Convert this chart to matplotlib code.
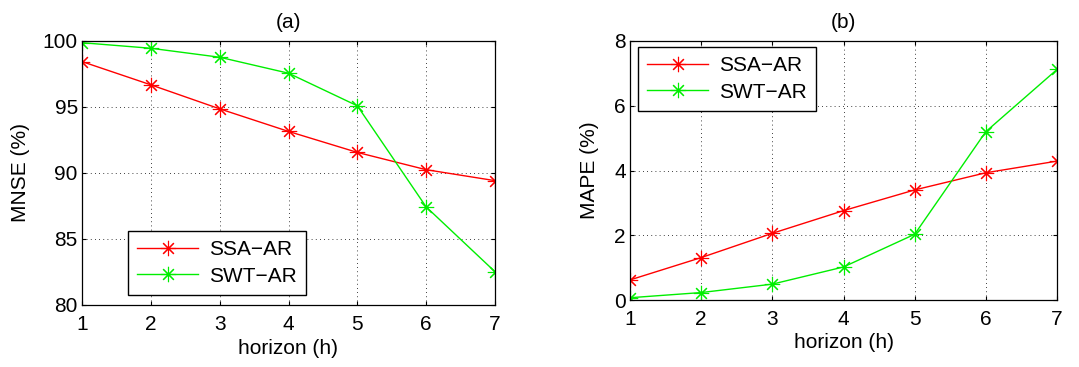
import matplotlib
matplotlib.use('Agg')
import matplotlib.pyplot as plt

plt.rcParams['font.family'] = ['Liberation Sans', 'DejaVu Sans']

horizon = [1, 2, 3, 4, 5, 6, 7]

# (a) MNSE (%)
mnse_ssa = [98.44, 96.68, 94.86, 93.15, 91.56, 90.25, 89.42]
mnse_swt = [99.87, 99.45, 98.77, 97.56, 95.09, 87.43, 82.52]

# (b) MAPE (%)
mape_ssa = [0.62, 1.31, 2.06, 2.76, 3.40, 3.93, 4.29]
mape_swt = [0.07, 0.23, 0.49, 1.02, 2.03, 5.20, 7.12]

labels = ['SSA\u2212AR', 'SWT\u2212AR']

W, H = 1079, 367
FS = 15
fig = plt.figure(figsize=(W / 100, H / 100), dpi=100)

# MATLAB-ish asterisk: 8 spokes
star = (8, 2, 0)
line_kw = dict(marker=star, markersize=11, markeredgewidth=0.8, lw=1)

def px_axes(x0, x1, y0, y1):
    return fig.add_axes([x0 / W, 1 - y1 / H, (x1 - x0) / W, (y1 - y0) / H])

def style(ax):
    ax.tick_params(axis='both', direction='in', top=True, right=True,
                   labelsize=FS, length=3, width=0.8)
    ax.tick_params(axis='x', pad=7)
    ax.tick_params(axis='y', pad=3)
    ax.grid(True, color='black', linestyle=(0, (1, 4)), linewidth=0.6)
    for s in ax.spines.values():
        s.set_linewidth(0.9)

def add_legend(ax, loc, anchor):
    leg = ax.legend(loc=loc, bbox_to_anchor=anchor, bbox_transform=fig.transFigure,
                    fontsize=FS, fancybox=False, edgecolor='black', framealpha=1,
                    handlelength=2.9, handletextpad=0.55, borderpad=0.45,
                    labelspacing=0.35, borderaxespad=0)
    leg.get_frame().set_linewidth(1)
    return leg

ax1 = px_axes(82, 495, 41, 305)
ax1.plot(horizon, mnse_ssa, color='red', label=labels[0], **line_kw)
ax1.plot(horizon, mnse_swt, color='#00ee00', label=labels[1], **line_kw)
ax1.set_xlim(1, 7)
ax1.set_ylim(80, 100)
ax1.set_yticks([80, 85, 90, 95, 100])
ax1.set_xticks(horizon)
ax1.set_xlabel('horizon (h)', fontsize=FS, labelpad=4)
ax1.set_ylabel('MNSE (%)', fontsize=FS, labelpad=9)
ax1.set_title('(a)', fontsize=FS, pad=9)
style(ax1)
add_legend(ax1, 'lower left', (128 / W, 1 - 295 / H))

ax2 = px_axes(630, 1057, 41, 300)
ax2.plot(horizon, mape_ssa, color='red', label=labels[0], **line_kw)
ax2.plot(horizon, mape_swt, color='#00ee00', label=labels[1], **line_kw)
ax2.set_xlim(1, 7)
ax2.set_ylim(0, 8)
ax2.set_yticks([0, 2, 4, 6, 8])
ax2.set_xticks(horizon)
ax2.set_xlabel('horizon (h)', fontsize=FS, labelpad=3)
ax2.set_ylabel('MAPE (%)', fontsize=FS, labelpad=11)
ax2.set_title('(b)', fontsize=FS, pad=9)
style(ax2)
add_legend(ax2, 'upper left', (638 / W, 1 - 47 / H))

fig.savefig('out.png', dpi=100)
